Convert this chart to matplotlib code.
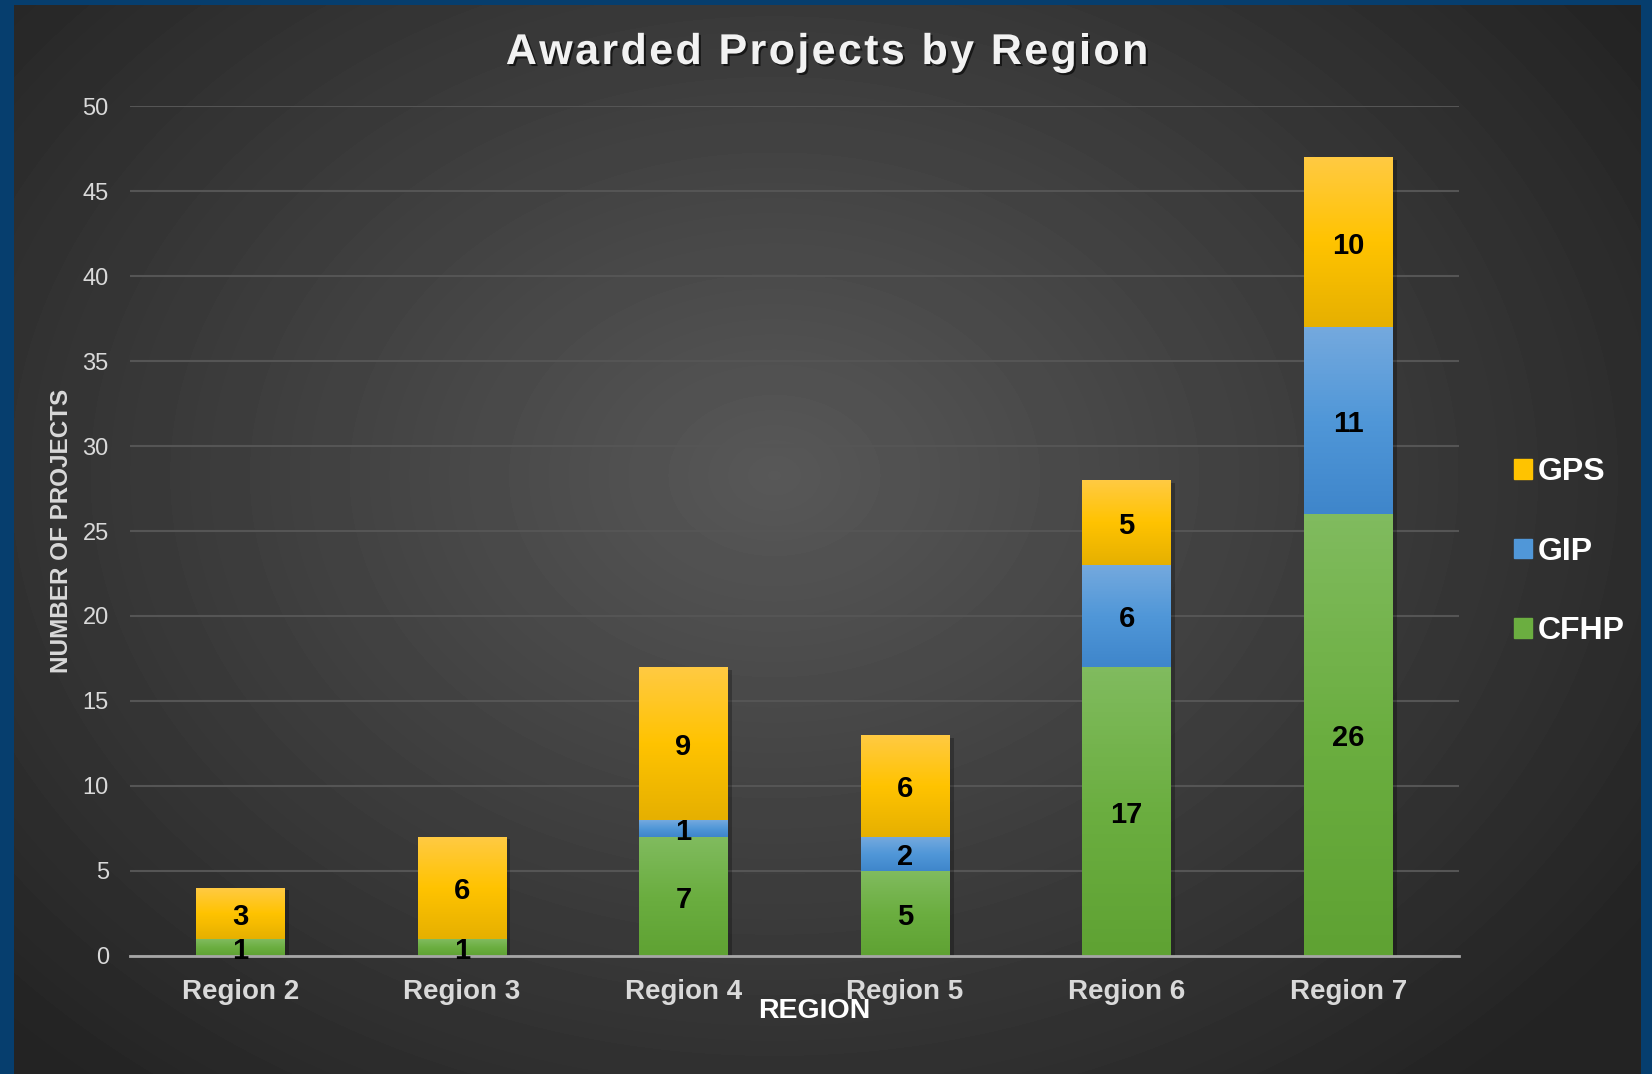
import numpy as np
import matplotlib
matplotlib.use("Agg")
import matplotlib.pyplot as plt
import matplotlib.patheffects as pe
from matplotlib.patches import Patch
from matplotlib.colors import LinearSegmentedColormap
from matplotlib.font_manager import FontProperties

regions = ['Region 2', 'Region 3', 'Region 4', 'Region 5', 'Region 6', 'Region 7']
cfhp = [1, 1, 7, 5, 17, 26]
gip = [0, 0, 1, 2, 6, 11]
gps = [3, 6, 9, 6, 5, 10]
series = [('CFHP', cfhp), ('GIP', gip), ('GPS', gps)]

# bottom, middle, top colours of each bar gradient
grad = {
    'CFHP': ['#5fa233', '#6bae40', '#80bb5e'],
    'GIP': ['#3f86cb', '#5097d8', '#74a9de'],
    'GPS': ['#e6b000', '#ffc300', '#ffca42'],
}

plt.rcParams['font.family'] = ['Liberation Sans', 'DejaVu Sans']

W, H = 1652, 1074
fig = plt.figure(figsize=(W / 100, H / 100), dpi=100, facecolor='#063e6e')

# dark radial background inside the blue frame
bw, bh = 1641 - 14, H - 5
bg = fig.add_axes([14 / W, 0, bw / W, bh / H], zorder=-10)
bg.set_axis_off()
yy, xx = np.mgrid[0:bh, 0:bw]
r = np.sqrt(((xx - 760) / 1000) ** 2 + ((yy - 470) / 760) ** 2)
shade = np.clip(0.345 - 0.196 * r, 0.14, 1)
bg.imshow(shade, cmap='gray', vmin=0, vmax=1, aspect='auto', interpolation='bilinear')

ax = fig.add_axes([129.6 / W, (H - 955.6) / H, 1329.4 / W, 849.2 / H])
ax.set_facecolor('none')

x = np.arange(len(regions))
bottom = np.zeros(len(regions))
gvec = np.linspace(0, 1, 64).reshape(-1, 1)
for name, vals in series:
    cmap = LinearSegmentedColormap.from_list(name, grad[name])
    bars = ax.bar(x, vals, 0.4, bottom=bottom, color=grad[name][1], zorder=3,
                  linewidth=0)
    for p in bars:
        if p.get_height() <= 0:
            continue
        p.set_path_effects([pe.SimplePatchShadow(offset=(3, -2), shadow_rgbFace='black', alpha=0.25),
                            pe.Normal()])
        im = ax.imshow(gvec, cmap=cmap, origin='lower', aspect='auto', zorder=3.5,
                       extent=[p.get_x(), p.get_x() + p.get_width(), p.get_y(), p.get_y() + p.get_height()])
        im.set_clip_path(p)
    labs = ax.bar_label(bars, labels=[str(v) if v else '' for v in vals], label_type='center',
                        fontsize=21, fontweight='bold', color='black')
    for t in labs:
        t.set_zorder(6)
        t.xyann = (0, -2.5)
    bottom += np.array(vals)

ax.set_xlim(-0.5, len(regions) - 0.5)
ax.set_ylim(0, 50)
ax.set_yticks(np.arange(0, 51, 5))
ax.set_xticks(x)
ax.set_xticklabels(regions, fontsize=20, fontweight='bold', color='#d9d9d9')
ax.tick_params(axis='y', length=0, pad=15, labelsize=17, labelcolor='#d9d9d9')
ax.tick_params(axis='x', length=0, pad=16.5)
ax.yaxis.grid(True, color='#555555', linewidth=1.5)
ax.set_axisbelow(True)
for s in ['top', 'right', 'left']:
    ax.spines[s].set_visible(False)
ax.spines['bottom'].set_color('#a6a6a6')
ax.spines['bottom'].set_linewidth(2)
ax.spines['bottom'].set_zorder(4)

ax.set_ylabel('NUMBER OF PROJECTS', fontsize=17.5, fontweight='bold', color='#d9d9d9')
ax.yaxis.label.set_va('center')
ax.yaxis.set_label_coords((62 - 129.6) / 1329.4, 0.5)
ax.set_xlabel('REGION', fontsize=20.5, fontweight='bold', color='white')
ax.xaxis.label.set_va('center')
ax.xaxis.set_label_coords((814 - 129.6) / 1329.4, (955.6 - 1010.5) / 849.2)

handles = [Patch(color=grad['GPS'][1]), Patch(color=grad['GIP'][1]), Patch(color=grad['CFHP'][1])]
ax.legend(handles, ['GPS', 'GIP', 'CFHP'], loc='center left', bbox_to_anchor=(1.041, 0.4755),
          frameon=False, prop=dict(size=23, weight='bold'), labelcolor='white',
          handlelength=0.57, handleheight=0.57, handletextpad=0.2, labelspacing=1.55,
          borderpad=0, borderaxespad=0)

# title with a little letter spacing
title = 'Awarded Projects by Region'
fp = FontProperties(family=['Liberation Sans'], weight='bold', size=31)
rend = fig.canvas.get_renderer()
base = rend.get_text_width_height_descent('HH', fp, ismath=False)[0]
adv = [rend.get_text_width_height_descent('H' + c + 'H', fp, ismath=False)[0] - base for c in title]
gap = 2.4
total = sum(adv) + gap * (len(title) - 1)
xpos = 827 - total / 2
for c, a in zip(title, adv):
    fig.text(xpos / W, (H - 64) / H, c, fontproperties=fp, color='#f2f2f2', va='baseline', ha='left',
             path_effects=[pe.withSimplePatchShadow(offset=(1.5, -1.5), shadow_rgbFace='black', alpha=0.6)])
    xpos += a + gap

fig.savefig('out.png', dpi=100, facecolor=fig.get_facecolor())
